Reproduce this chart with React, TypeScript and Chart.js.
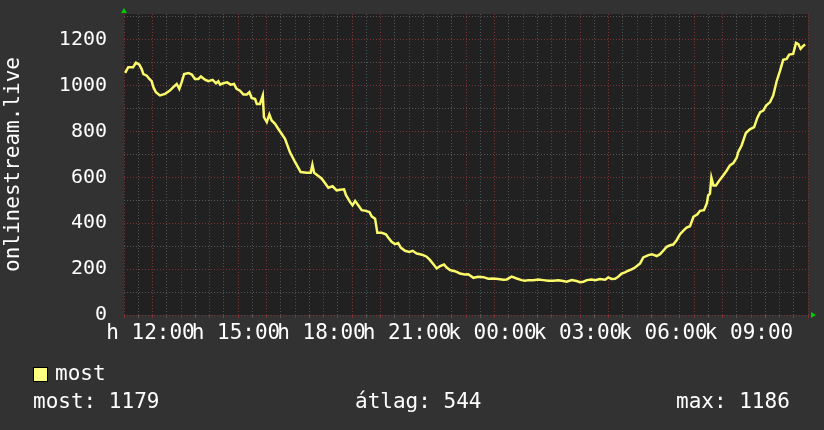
import React, { useEffect, useRef } from 'react';
import { Chart, registerables } from 'chart.js';

Chart.register(...registerables);

// time in hours (11 = 11:00 Monday, 24 = 00:00 Tuesday, 35 = 11:00 Tuesday)
const hours = [
  11.04, 11.15, 11.32, 11.42, 11.54, 11.62, 11.68, 11.80, 11.89, 11.97,
  12.03, 12.12, 12.26, 12.44, 12.61, 12.73, 12.85, 12.94, 13.02, 13.11,
  13.26, 13.38, 13.49, 13.61, 13.70, 13.84, 13.96, 14.11, 14.23, 14.31,
  14.37, 14.48, 14.62, 14.74, 14.86, 14.95, 15.07, 15.19, 15.31, 15.40,
  15.48, 15.60, 15.66, 15.77, 15.87, 15.91, 16.01, 16.10, 16.18, 16.30,
  16.41, 16.53, 16.65, 16.82, 17.00, 17.20, 17.41, 17.55, 17.61, 17.67,
  17.82, 17.94, 18.05, 18.17, 18.32, 18.46, 18.58, 18.72, 18.79, 18.93,
  19.02, 19.11, 19.22, 19.34, 19.49, 19.61, 19.69, 19.81, 19.89, 20.04,
  20.19, 20.27, 20.39, 20.51, 20.62, 20.71, 20.86, 21.01, 21.13, 21.27,
  21.39, 21.50, 21.62, 21.74, 21.85, 21.97, 22.09, 22.23, 22.32, 22.44,
  22.61, 22.79, 22.96, 23.08, 23.26, 23.43, 23.61, 23.78, 23.96, 24.13,
  24.31, 24.43, 24.60, 24.78, 24.95, 25.07, 25.19, 25.36, 25.54, 25.71,
  25.89, 26.06, 26.24, 26.41, 26.53, 26.71, 26.88, 27.00, 27.12, 27.24,
  27.41, 27.53, 27.70, 27.88, 27.99, 28.11, 28.23, 28.34, 28.46, 28.58,
  28.69, 28.81, 28.93, 29.11, 29.22, 29.40, 29.52, 29.69, 29.81, 29.92,
  30.04, 30.16, 30.27, 30.39, 30.51, 30.62, 30.74, 30.86, 30.98, 31.12,
  31.21, 31.35, 31.45, 31.50, 31.56, 31.61, 31.68, 31.77, 31.91, 32.03,
  32.15, 32.26, 32.38, 32.50, 32.55, 32.67, 32.82, 32.96, 33.11, 33.22,
  33.32, 33.43, 33.53, 33.67, 33.78, 33.90, 34.02, 34.13, 34.25, 34.34,
  34.48, 34.58, 34.66, 34.74, 34.84, 34.90,
];

const values = [
  1055, 1080, 1080, 1100, 1091, 1072, 1050, 1043, 1029, 1019,
  993, 971, 957, 964, 978, 993, 1007, 986, 1014, 1050,
  1055, 1048, 1029, 1029, 1040, 1026, 1019, 1025, 1010, 1019,
  1004, 1010, 1014, 1004, 1007, 986, 978, 961, 961, 971,
  946, 941, 920, 920, 957, 862, 841, 874, 848, 833,
  812, 790, 768, 710, 667, 623, 620, 620, 655, 620,
  606, 594, 575, 555, 561, 543, 546, 548, 522, 493,
  478, 497, 478, 457, 454, 449, 430, 420, 358, 358,
  352, 338, 319, 309, 314, 294, 280, 275, 280, 268,
  265, 261, 254, 239, 222, 203, 213, 220, 207, 196,
  191, 181, 177, 178, 162, 167, 165, 158, 159, 157,
  154, 155, 167, 159, 152, 149, 152, 152, 155, 152,
  149, 149, 151, 148, 145, 152, 148, 143, 145, 152,
  155, 152, 157, 154, 164, 157, 158, 167, 181, 186,
  193, 199, 207, 225, 251, 261, 265, 257, 265, 280,
  297, 304, 307, 326, 352, 367, 381, 387, 428, 439,
  454, 457, 486, 522, 529, 599, 565, 565, 590, 609,
  630, 652, 662, 686, 710, 739, 793, 809, 819, 859,
  884, 891, 913, 928, 957, 1019, 1065, 1112, 1116, 1135,
  1138, 1186, 1181, 1160, 1174, 1179,
];

const tickHours = [12, 15, 18, 21, 24, 27, 30, 33];
const tickLabels = ['h 12:00', 'h 15:00', 'h 18:00', 'h 21:00', 'k 00:00', 'k 03:00', 'k 06:00', 'k 09:00'];
const yTickValues = [0, 200, 400, 600, 800, 1000, 1200];
const yTickLabels = ['0', '200', '400', '600', '800', '1000', '1200'];
const seriesName = 'most';
const axisTitle = 'onlinestream.live';
const statNow = 1179;
const statAvg = 544;
const statMax = 1186;

const FONT = '"DejaVu Sans Mono", monospace';
const RED = '#7a3434';
const GREY = '#555555';
const LINE = '#fafa6a';

export default function App() {
  const ref = useRef<HTMLCanvasElement>(null);

  useEffect(() => {
    document.body.style.margin = '0';
    const canvas = ref.current;
    if (!canvas) return;

    const plotBg = {
      id: 'plotBg',
      beforeDraw(chart: any) {
        const { ctx, chartArea: a } = chart;
        ctx.save();
        ctx.fillStyle = '#212121';
        ctx.fillRect(a.left, a.top, a.right - a.left, a.bottom - a.top);
        ctx.restore();
      },
    };

    const arrows = {
      id: 'arrows',
      afterDraw(chart: any) {
        const { ctx, chartArea: a } = chart;
        ctx.save();
        ctx.fillStyle = '#00cc00';
        ctx.beginPath();
        ctx.moveTo(a.left - 3, a.top - 1);
        ctx.lineTo(a.left + 3, a.top - 1);
        ctx.lineTo(a.left, a.top - 6);
        ctx.closePath();
        ctx.fill();
        ctx.beginPath();
        ctx.moveTo(a.right + 3, a.bottom - 3);
        ctx.lineTo(a.right + 3, a.bottom + 3);
        ctx.lineTo(a.right + 8, a.bottom);
        ctx.closePath();
        ctx.fill();
        ctx.restore();
      },
    };

    const chart = new Chart(canvas, {
      type: 'line',
      data: {
        datasets: [
          {
            label: seriesName,
            data: hours.map((h, i) => ({ x: h, y: values[i] })),
            borderColor: LINE,
            borderWidth: 2.5,
            pointRadius: 0,
            tension: 0,
            fill: false,
          },
        ],
      },
      options: {
        responsive: false,
        animation: false,
        events: [],
        layout: { padding: { top: 14, right: 16, left: 0, bottom: 0 } },
        plugins: {
          legend: { display: false },
          tooltip: { enabled: false },
        },
        scales: {
          x: {
            type: 'linear',
            min: 11,
            max: 35,
            afterFit: (s: any) => {
              s.height = 115;
              s.paddingLeft = 0;
              s.paddingRight = 0;
            },
            ticks: {
              stepSize: 0.5,
              maxTicksLimit: 100,
              autoSkip: false,
              maxRotation: 0,
              minRotation: 0,
              includeBounds: false,
              color: '#ffffff',
              font: { family: FONT, size: 21 },
              padding: 3,
              labelOffset: -2,
              callback: (v: any) => {
                const i = tickHours.indexOf(Number(v));
                return i >= 0 ? tickLabels[i] : '';
              },
            },
            grid: {
              color: (c: any) => (c.tick && Number.isInteger(c.tick.value) ? RED : GREY),
              lineWidth: 1,
              drawTicks: true,
              tickLength: 3,
            },
            border: { display: false, dash: [1, 2] },
          },
          y: {
            type: 'linear',
            min: 0,
            max: 1312,
            afterFit: (s: any) => {
              s.width = 124;
              s.paddingTop = 0;
              s.paddingBottom = 0;
            },
            ticks: {
              stepSize: 100,
              maxTicksLimit: 100,
              autoSkip: false,
              includeBounds: false,
              color: '#ffffff',
              font: { family: FONT, size: 20 },
              padding: 17,
              callback: (v: any) => {
                const i = yTickValues.indexOf(Math.round(Number(v)));
                return i >= 0 ? yTickLabels[i] : '';
              },
            },
            grid: {
              color: (c: any) =>
                c.tick && yTickValues.indexOf(Math.round(c.tick.value)) >= 0 ? RED : GREY,
              lineWidth: 1,
              drawTicks: false,
            },
            border: { display: false, dash: [1, 2] },
            title: {
              display: true,
              text: axisTitle,
              color: '#ffffff',
              font: { family: FONT, size: 21 },
              padding: { top: 1, bottom: 0 },
            },
          },
        },
      },
      plugins: [plotBg, arrows],
    } as any);

    return () => chart.destroy();
  }, []);

  const textStyle: React.CSSProperties = {
    position: 'absolute',
    fontFamily: FONT,
    fontSize: 21,
    lineHeight: '21px',
    color: '#ffffff',
    whiteSpace: 'pre',
  };

  return (
    <div style={{ position: 'relative', width: 824, height: 430, background: '#323232', overflow: 'hidden' }}>
      <canvas ref={ref} width={824} height={430} style={{ display: 'block', width: 824, height: 430 }} />
      <div
        style={{
          position: 'absolute',
          left: 33,
          top: 367,
          width: 15,
          height: 15,
          boxSizing: 'border-box',
          background: '#ffff80',
          border: '1px solid #000',
        }}
      />
      <div style={{ ...textStyle, left: 55, top: 363 }}>{seriesName}</div>
      <div style={{ ...textStyle, left: 33, top: 391 }}>{`most: ${statNow}`}</div>
      <div style={{ ...textStyle, left: 355, top: 391 }}>{`átlag: ${statAvg}`}</div>
      <div style={{ ...textStyle, left: 676, top: 391 }}>{`max: ${statMax}`}</div>
    </div>
  );
}
